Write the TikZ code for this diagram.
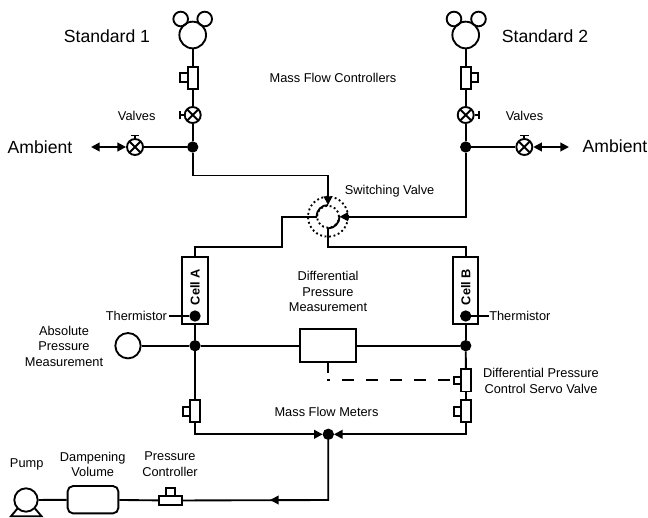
\documentclass[tikz,border=0pt]{standalone}
\usepackage{fontspec}
\setmainfont{Liberation Sans}
\usetikzlibrary{arrows.meta, positioning}

\begin{document}
\begin{tikzpicture}[
  x=0.75pt, y=-0.75pt,
  lbl/.style={font=\fontsize{9.6}{11.6}\selectfont, align=center, inner sep=0pt},
  biglbl/.style={font=\fontsize{13.2}{15}\selectfont, inner sep=0pt},
  pipe/.style={line width=1.4pt},
  flow/.style={pipe, -{Triangle[length=6.5pt,width=6.5pt]}},
  both/.style={pipe, {Triangle[length=6.5pt,width=6.5pt]}-{Triangle[length=6.5pt,width=6.5pt]}},
  stem/.style={pipe, -{Bar[width=6.5pt]}},
  dot/.style={circle, fill, draw, pipe, minimum size=5.5pt, inner sep=0pt},
  bigdot/.style={dot, minimum size=7pt},
  gauge/.style={circle, draw, pipe, minimum size=19pt, inner sep=0pt},
  bottle/.style={circle, draw, pipe, minimum size=20pt, inner sep=0pt},
  knob/.style={circle, draw, pipe, minimum size=11pt, inner sep=0pt},
  valve/.style={circle, draw, pipe, minimum size=12pt, inner sep=0pt,
    path picture={\draw[pipe] (path picture bounding box.north west) -- (path picture bounding box.south east)
      (path picture bounding box.north east) -- (path picture bounding box.south west);}},
  meter/.style={rectangle, draw, pipe, minimum width=7.6pt, minimum height=16.8pt, inner sep=0pt},
  tab/.style={rectangle, draw, pipe, minimum width=5.4pt, minimum height=6.6pt, inner sep=0pt},
  cell/.style={rectangle, draw, pipe, minimum width=19pt, minimum height=50pt, inner sep=0pt},
  ring/.style={circle, draw, line width=1.4pt, dotted, inner sep=0pt}
]
\useasboundingbox (0,0) rectangle (648,517);

% standard 1 side
\node[bottle] (stdone) at (192.7,35) {};
\node[knob] (knoba) at (180.7,19) {};
\node[knob] (knobb) at (204.7,19) {};
\node[meter] (mfcone) at (192.7,78) {};
\node[tab] (mfconetab) at (183.9,77.5) {};
\node[valve] (valvea) at (192.7,115) {};
\node[valve] (valveb) at (135,147) {};
\node[bigdot] (juncone) at (192.7,147) {};
\coordinate (barA) at (179,115);
\coordinate (barB) at (135,134.5);
\coordinate (ambone) at (91,147);
\draw[pipe] (stdone) -- (mfcone);
\draw[pipe] (mfcone) -- (valvea);
\draw[pipe] (valvea) -- (juncone);
\draw[pipe] (juncone) -- (valveb);
\draw[stem] (valvea) -- (barA);
\draw[stem] (valveb) -- (barB);
\draw[both] (ambone) -- (valveb);

% standard 2 side
\node[bottle] (stdtwo) at (465.7,35) {};
\node[knob] (knobc) at (454,19) {};
\node[knob] (knobd) at (478.5,19) {};
\node[meter] (mfctwo) at (465.7,78) {};
\node[tab] (mfctwotab) at (474.7,77.5) {};
\node[valve] (valvec) at (465.7,115) {};
\node[valve] (valved) at (524.3,147) {};
\node[bigdot] (junctwo) at (465.7,147) {};
\coordinate (barC) at (479.5,115);
\coordinate (barD) at (524.3,134.5);
\coordinate (ambtwo) at (569,147);
\draw[pipe] (stdtwo) -- (mfctwo);
\draw[pipe] (mfctwo) -- (valvec);
\draw[pipe] (valvec) -- (junctwo);
\draw[pipe] (junctwo) -- (valved);
\draw[stem] (valvec) -- (barC);
\draw[stem] (valved) -- (barD);
\draw[both] (valved) -- (ambtwo);

% switching valve
\node[ring, minimum size=30pt] (swouter) at (328,216.7) {};
\node[ring, minimum size=16.5pt] (swinner) at (328,216.7) {};
\coordinate (intop) at (328,205);
\coordinate (inleft) at (316.5,216.7);
\coordinate (inright) at (339.5,216.7);
\coordinate (inbot) at (328,228.4);
\coordinate (turnone) at (192.7,175.5);
\coordinate (turntwo) at (465.7,216.7);
\coordinate (stepa) at (281.7,216.7);
\coordinate (stepb) at (281.7,246.7);
\coordinate (stepc) at (195,246.7);
\coordinate (stepd) at (328,246.7);
\coordinate (stepe) at (465.7,246.7);
\draw[pipe] (inleft) to[out=90,in=180] (intop);
\draw[pipe] (inright) to[out=-90,in=0] (inbot);
\draw[flow] (juncone) -- (turnone) -| (intop);
\draw[flow, line width=1.8pt] (junctwo) -- (turntwo) -- (inright);

% cells
\node[cell] (cella) at (195,290.7) {};
\node[cell] (cellb) at (465.7,290.7) {};
\node[lbl, rotate=90, font=\fontsize{9.6}{11.6}\selectfont\bfseries] (cellatext) at (195,287) {Cell A};
\node[lbl, rotate=90, font=\fontsize{9.6}{11.6}\selectfont\bfseries] (cellbtext) at (465.7,287) {Cell B};
\node[bigdot] (dota) at (195,316) {};
\node[bigdot] (dotb) at (465.7,316) {};
\draw[pipe] (inleft) -- (stepa) -- (stepb) -- (stepc) -- (cella);
\draw[pipe] (inbot) -- (stepd) -- (stepe) -- (cellb);
\node[lbl, anchor=east, outer sep=1.5pt] (thermone) at (169,316) {Thermistor};
\node[lbl, anchor=west] (thermtwo) at (489,316) {Thermistor};
\draw[pipe] (thermone) -- (dota);
\draw[pipe] (thermtwo) -- (dotb);

% pressure measurement row
\node[gauge] (absgauge) at (128,345.7) {};
\node[bigdot] (junca) at (195,345.7) {};
\node[bigdot] (juncb) at (465.7,345.7) {};
\node[rectangle, draw, pipe, minimum width=41.7pt, minimum height=25pt, inner sep=0pt] (diffbox) at (328,345.7) {};
\draw[pipe] (absgauge) -- (junca);
\draw[pipe] (junca) -- (diffbox);
\draw[pipe] (diffbox) -- (juncb);
\draw[pipe] (cella) -- (junca);
\draw[pipe] (cellb) -- (juncb);

% servo valve and meters
\node[meter] (servo) at (466,380.3) {};
\node[tab, minimum height=5.6pt] (servotab) at (457.7,380.3) {};
\node[meter] (mfmb) at (466,411.2) {};
\node[tab] (mfmbtab) at (457.7,411.2) {};
\node[meter] (mfma) at (195,411.2) {};
\node[tab] (mfmatab) at (186.4,411.2) {};
\coordinate (stemend) at (328,373);
\coordinate (dashend) at (327.2,380.3);
\draw[pipe] (diffbox) -- (stemend);
\draw[pipe, dash pattern=on 9pt off 9pt, dash phase=15.5pt] (servotab) -- (dashend);
\draw[pipe] (juncb) -- (servo);
\draw[pipe] (servo) -- (mfmb);
\draw[pipe] (junca) -- (mfma);
\node[bigdot] (juncc) at (328.3,434.3) {};
\coordinate (turna) at (195,434.3);
\coordinate (turnb) at (466,434.3);
\draw[flow] (mfma) -- (turna) -- (juncc);
\draw[flow] (mfmb) -- (turnb) -- (juncc);

% pump line
\node[tab, minimum width=16.8pt, minimum height=6.8pt] (pctrl) at (170.5,500.5) {};
\node[tab, minimum width=6.2pt, minimum height=6pt] (pctrltab) at (170.5,492.2) {};
\node[rectangle, draw, pipe, rounded corners=4pt, minimum width=38pt, minimum height=20.5pt, inner sep=0pt] (damp) at (93,499.7) {};
\node[circle, draw, pipe, minimum size=17.5pt, inner sep=0pt] (pump) at (26,500) {};
\coordinate (turnc) at (328.3,500);
\coordinate (flowtip) at (270,500);
\coordinate (baseleft) at (11,516.2);
\coordinate (baseright) at (41.5,516.2);
\coordinate (legleft) at (17.5,508.5);
\coordinate (legright) at (35,508.5);
\draw[pipe] (juncc) -- (turnc) -- (pctrl);
\draw[flow] (turnc) -- (flowtip);
\draw[pipe] (pctrl) -- (damp);
\draw[pipe] (damp) -- (pump);
\draw[pipe] (legleft) -- (baseleft) -- (baseright) -- (legright);

% labels
\node[biglbl] (stdonetext) at (107,36) {Standard 1};
\node[biglbl] (stdtwotext) at (545,36) {Standard 2};
\node[biglbl] (ambonetext) at (40,147) {Ambient};
\node[biglbl] (ambtwotext) at (615,146) {Ambient};
\node[lbl] (mfctext) at (333,78) {Mass Flow Controllers};
\node[lbl] (valvetexta) at (136.7,115.7) {Valves};
\node[lbl] (valvetextb) at (524.5,115.7) {Valves};
\node[lbl] (swtext) at (389.6,191) {Switching Valve};
\node[lbl] (difftext) at (328,291.5) {Differential\\Pressure\\Measurement};
\node[lbl] (abstext) at (64,346) {Absolute\\Pressure\\Measurement};
\node[lbl] (servotext) at (541,381) {Differential Pressure\\Control Servo Valve};
\node[lbl] (mfmtext) at (326.5,411.7) {Mass Flow Meters};
\node[lbl] (pumptext) at (26.7,464) {Pump};
\node[lbl] (damptext) at (92.7,464.3) {Dampening\\Volume};
\node[lbl] (pctrltext) at (170,464.3) {Pressure\\Controller};
\end{tikzpicture}
\end{document}
